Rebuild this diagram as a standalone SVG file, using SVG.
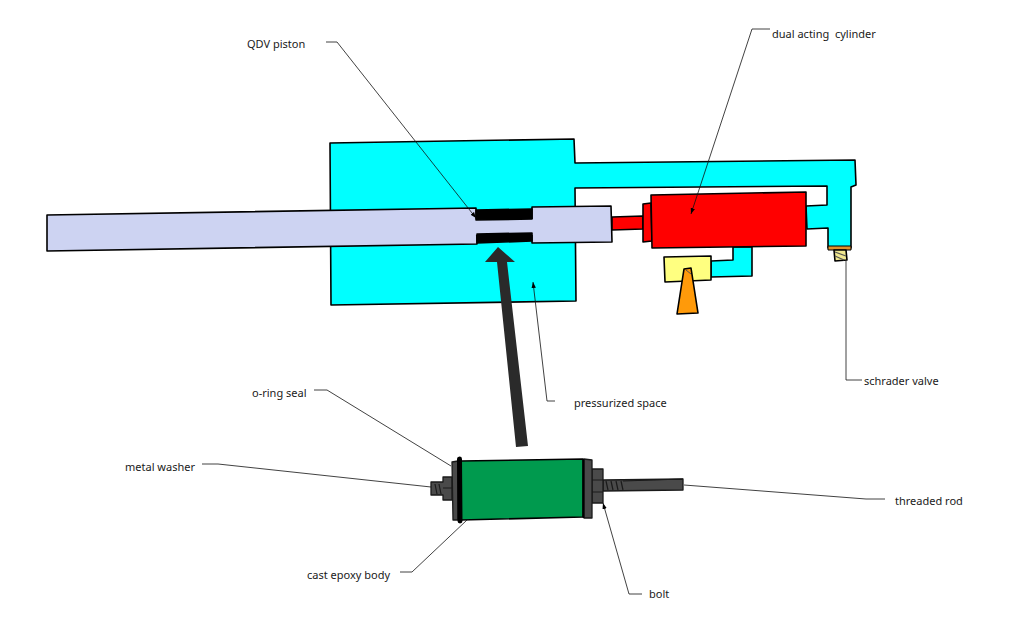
<svg xmlns="http://www.w3.org/2000/svg" width="1024" height="642" viewBox="0 0 1024 642">
<style>
.part{stroke:#000;stroke-width:1.6;stroke-linejoin:round}
.lead{fill:none;stroke:#111;stroke-width:.8}
.dark{fill:#4a4a4a;stroke:#1a1a1a;stroke-width:1.3;stroke-linejoin:round}
.thread{fill:none;stroke:#1a1a1a;stroke-width:1.2}
text{font-family:"Noto Sans","DejaVu Sans",sans-serif;font-size:11px;fill:#1a1a1a;white-space:pre}
</style>
<defs>
<marker id="tip" markerWidth="7" markerHeight="6" refX="6" refY="3" orient="auto" markerUnits="userSpaceOnUse"><path d="M0 0.8L6 3L0 5.2Z" fill="#000"/></marker>
</defs>
<rect width="1024" height="642" fill="#fff"/>
<g id="housing">
<path class="part" fill="#00ffff" d="M330 143L574 139L575 163L855 160L856 185L851 187L851 248L828 248L828 228L807 229L806 206L827 205L827 186L575 188L576 301L331 305Z"/>
<path class="part" fill="#00ffff" d="M733 247L752 247L752 276L711 277L711 261L733 260Z"/>
</g>
<g id="shaft">
<path class="part" fill="#cdd3f2" d="M47 215L476 208L477 244L47 251Z"/>
<path class="part" fill="#cdd3f2" d="M532 207L611 206L612 242L532 243Z"/>
<path fill="#cdd3f2" d="M470 219H540V235H470Z"/>
<path class="part" fill="#000" d="M476 210L532 209L532 219L476 220Z"/>
<path class="part" fill="#000" d="M477 234L532 233L532 241L477 243Z"/>
</g>
<g id="cylinder">
<path class="part" fill="#ff0000" d="M612 217L643 216L643 229L612 230Z"/>
<path class="part" fill="#ff0000" d="M643 204L651 203L652 241L643 242Z"/>
<path class="part" fill="#ff0000" d="M651 195L806 192L806 246L652 248Z"/>
</g>
<g id="fitting">
<path class="part" fill="#ffff80" d="M664 257L711 256L711 280L665 282Z"/>
<path class="part" fill="#ff9a0a" d="M684 269L691 268L698 313L677 314Z"/>
<path d="M686 270L691 274" stroke="#555" stroke-width="1" fill="none"/>
</g>
<g id="schrader">
<path fill="#e0922a" stroke="#000" stroke-width="1" d="M828 246L851 246L851 250L828 250Z"/>
<path class="part" fill="#f0e890" d="M834 250L846 250L847 260L835 261Z"/>
<path d="M835 252L846 256M835 256L844 260" stroke="#555" stroke-width="1.2" fill="none"/>
</g>
<g id="pressure-arrow">
<path fill="#2a2a2a" d="M498 247L515 262L507 262L528 446L516 447L497 262L485 262Z"/>
</g>
<g id="epoxy-plug">
<path class="dark" d="M431 482L443 482L443 477L452 477L452 500L443 500L443 495L431 495Z"/>
<path class="thread" d="M435 484l2 10M439 484l2 10M443 488H452"/>
<path class="dark" d="M452 462L458 461L458 520L453 520Z"/>
<path class="dark" d="M603 480L683 479L683 490L603 491Z"/>
<path class="dark" d="M592 469L603 469L603 503L592 503Z"/>
<path class="thread" d="M592 480H603M592 492H603M606 481l2 9M611 481l2 9M616 481l2 9M621 481l2 9M623 481L683 479"/>
<path class="dark" d="M584 459L592 460L592 518L584 518Z"/>
<path class="part" fill="#009a4e" d="M461 461L583 459L583 517L461 520Z"/>
<path d="M459.500 459L460 521" stroke="#000" stroke-width="5" stroke-linecap="round" fill="none"/>
<path d="M583.500 459L583.500 518" stroke="#000" stroke-width="1.800" fill="none"/>
</g>
<g id="connectors">
<path class="lead" marker-end="url(#tip)" d="M326 42H337L476 218"/>
<path class="lead" marker-end="url(#tip)" d="M770 29H752L691 214"/>
<path class="lead" marker-end="url(#tip)" d="M555 401H547L533 282"/>
<path class="lead" d="M862 380H846V261"/>
<path class="lead" d="M314 390H327L451 466"/>
<path class="lead" d="M202 464H218L431 487"/>
<path class="lead" d="M400 572H412L467 520"/>
<path class="lead" d="M885 499H866L684 485"/>
<path class="lead" marker-end="url(#tip)" d="M642 594H629L603 503"/>
</g>
<g id="labels">
<text x="247" y="48">QDV piston</text>
<text x="772" y="38">dual acting  cylinder</text>
<text x="864" y="385">schrader valve</text>
<text x="574" y="407">pressurized space</text>
<text x="252" y="397">o-ring seal</text>
<text x="125" y="471">metal washer</text>
<text x="307" y="579">cast epoxy body</text>
<text x="895" y="505">threaded rod</text>
<text x="649" y="598">bolt</text>
</g>
</svg>
